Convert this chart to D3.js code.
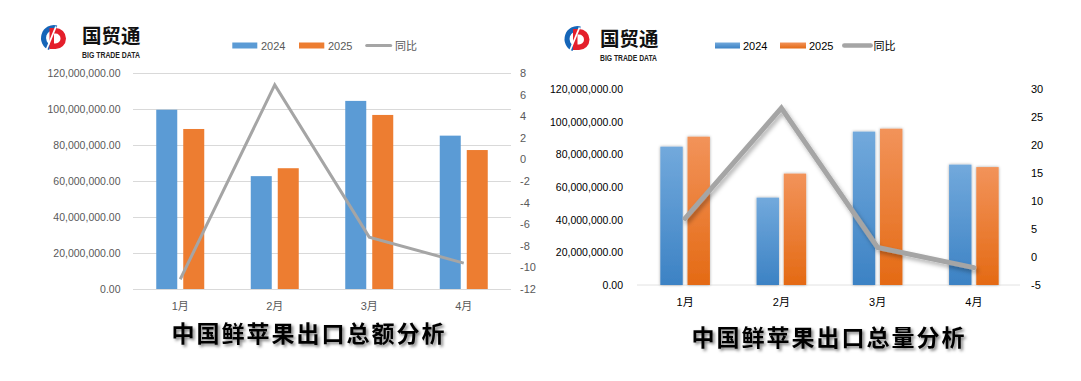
<!DOCTYPE html>
<html><head><meta charset="utf-8">
<script src="https://cdn.jsdelivr.net/npm/d3@7/dist/d3.min.js"></script>
<style>
html,body{margin:0;padding:0;background:#fff;}
svg{display:block;}
text{font-family:"Liberation Sans","Noto Sans CJK SC",sans-serif;}
</style></head><body>
<svg id="c" width="1081" height="381"></svg>
<script>
// ---------- data ----------
const categories = ["1月", "2月", "3月", "4月"];
const seriesNames = ["2024", "2025"];
const lineName = "同比";
// 中国鲜苹果出口总额
const amount2024 = [99.6e6, 62.7e6, 104.5e6, 85.2e6];
const amount2025 = [88.9e6, 67.1e6, 96.7e6, 77.2e6];
const amountYoY = [-11.1, 6.9, -7.2, -9.6];
// 中国鲜苹果出口总量
const volume2024 = [84.7e6, 53.5e6, 93.9e6, 73.7e6];
const volume2025 = [90.8e6, 68.2e6, 95.7e6, 72.2e6];
const volumeYoY = [6.9, 26.6, 1.7, -1.9];
// tick labels
const leftTicks = [0, 20e6, 40e6, 60e6, 80e6, 100e6, 120e6];
const amountRightTicks = [-12, -10, -8, -6, -4, -2, 0, 2, 4, 6, 8];
const volumeRightTicks = [-5, 0, 5, 10, 15, 20, 25, 30];
const titleAmount = "中国鲜苹果出口总额分析";
const titleVolume = "中国鲜苹果出口总量分析";

// ---------- setup ----------
const svg = d3.select("#c");
const defs = svg.append("defs");

function shadow(id, dx, dy, sd, op) {
  const f = defs.append("filter").attr("id", id)
    .attr("x", "-30%").attr("y", "-30%").attr("width", "160%").attr("height", "160%");
  f.append("feDropShadow").attr("dx", dx).attr("dy", dy).attr("stdDeviation", sd)
    .attr("flood-color", "#000").attr("flood-opacity", op);
}
shadow("titleShadow", 2, 2, 1.5, 0.5);
shadow("barShadow", 0, 0, 1.6, 0.35);
shadow("lineShadow", 2, 3, 2, 0.3);

function grad(id, top, bottom) {
  const lg = defs.append("linearGradient").attr("id", id)
    .attr("x1", 0).attr("y1", 0).attr("x2", 0).attr("y2", 1);
  lg.append("stop").attr("offset", "0%").attr("stop-color", top);
  lg.append("stop").attr("offset", "100%").attr("stop-color", bottom);
}
grad("gBlue", "#72a9dc", "#3c82c4");
grad("gOrange", "#f2935a", "#e46a14");

// ---------- logo ----------
function drawLogo(cx, cy, tx, tb, sb, sw) {
  const g = svg.append("g");
  const lg = g.append("g").attr("transform", `translate(${cx},${cy})`);
  const arc = d3.arc().innerRadius(8).outerRadius(13);
  lg.append("path").attr("d", arc({startAngle: -2.75, endAngle: 0.25})).attr("fill", "#1565b8");
  lg.append("path").attr("d", "M-4.5,-10 L1.5,-10 A10.5 10.5 0 0 1 1.5,11 L-4.5,11 Z").attr("fill", "#e41f2b");
  lg.append("path").attr("d", "M0,-4.5 L1.5,-4.5 A5 5 0 0 1 1.5,5.5 L0,5.5 Z").attr("fill", "#fff");
  lg.append("line").attr("x1", -7.5).attr("y1", 11.5).attr("x2", 2).attr("y2", -11.5)
    .attr("stroke", "#fff").attr("stroke-width", 1.8);
  g.append("text").attr("x", tx).attr("y", tb).text("国贸通")
    .attr("font-family", "Noto Sans CJK SC").attr("font-weight", 700)
    .attr("font-size", 19.5).attr("fill", "#111");
  g.append("text").attr("x", tx).attr("y", sb).text("BIG TRADE DATA")
    .attr("font-weight", 700).attr("font-size", 9.5).attr("fill", "#222")
    .attr("textLength", sw).attr("lengthAdjust", "spacingAndGlyphs");
}

// ---------- chart ----------
function drawChart(cfg) {
  const g = svg.append("g");
  const x = d3.scaleBand().domain(categories).range([cfg.x0, cfg.x1]);
  const xs = d3.scaleBand().domain(seriesNames).range([-cfg.half, cfg.half]).paddingInner(cfg.pad);
  const y = d3.scaleLinear().domain([0, 120e6]).range([cfg.yB, cfg.yT]);
  const y2 = d3.scaleLinear().domain(cfg.rDomain).range([cfg.yB, cfg.yT]);
  const fmt = d3.format(",.2f");

  // left axis (with gridlines for flat style)
  const la = g.append("g").attr("transform", `translate(${cfg.x0},0)`)
    .call(d3.axisLeft(y).tickValues(leftTicks).tickFormat(fmt)
      .tickSize(cfg.grid ? -(cfg.x1 - cfg.x0) : 0).tickPadding(cfg.lPad));
  la.select(".domain").remove();
  la.selectAll(".tick line").attr("stroke", "#d9d9d9").attr("stroke-width", 1);
  la.selectAll(".tick text").attr("font-size", 10.5).attr("fill", cfg.textColor)
    .attr("font-family", "Liberation Sans");

  if (!cfg.grid) {
    g.append("line").attr("x1", cfg.x0).attr("x2", cfg.x1 - 2)
      .attr("y1", y(0)).attr("y2", y(0)).attr("stroke", "#e2e2e2");
  }

  // right axis
  const ra = g.append("g").attr("transform", `translate(${cfg.x1},0)`)
    .call(d3.axisRight(y2).tickValues(cfg.rTicks).tickFormat(d => String(d))
      .tickSize(0).tickPadding(cfg.rPad));
  ra.select(".domain").remove();
  ra.selectAll(".tick text").attr("font-size", 11).attr("fill", cfg.textColor)
    .attr("font-family", "Liberation Sans");

  // bottom axis labels
  const ba = g.append("g").attr("transform", `translate(0,${cfg.yB})`)
    .call(d3.axisBottom(x).tickSize(0).tickPadding(cfg.xPad));
  ba.select(".domain").remove();
  ba.selectAll(".tick text").attr("font-size", 11).attr("fill", cfg.textColor);

  // bars
  const rows = categories.map((c, i) => ({c, vals: [cfg.s1[i], cfg.s2[i]]}));
  const grp = g.append("g").selectAll("g").data(rows).join("g")
    .attr("transform", d => `translate(${x(d.c) + x.bandwidth() / 2},0)`);
  grp.selectAll("rect").data(d => d.vals.map((v, k) => ({k, v}))).join("rect")
    .attr("x", d => xs(seriesNames[d.k]))
    .attr("width", xs.bandwidth())
    .attr("y", d => y(d.v))
    .attr("height", d => y(0) - y(d.v))
    .attr("fill", d => cfg.fills[d.k])
    .attr("filter", cfg.fancy ? "url(#barShadow)" : null);

  // line
  const line = d3.line().x((d, i) => x(categories[i]) + x.bandwidth() / 2).y(d => y2(d));
  g.append("path").datum(cfg.yoy).attr("d", line)
    .attr("fill", "none").attr("stroke", "#a5a5a5").attr("stroke-width", cfg.lw)
    .attr("stroke-linejoin", "miter").attr("stroke-linecap", cfg.fancy ? "round" : "butt")
    .attr("filter", cfg.fancy ? "url(#lineShadow)" : null);

  // legend
  const lgG = g.append("g").attr("font-size", 11).attr("fill", cfg.textColor);
  cfg.legend.forEach((it, k) => {
    if (k < 2) {
      lgG.append("rect").attr("x", it.x).attr("y", cfg.legY - 3).attr("width", it.w).attr("height", 6)
        .attr("fill", cfg.fills[k]);
    } else {
      lgG.append("line").attr("x1", it.x + 1).attr("x2", it.x + it.w - 1)
        .attr("y1", cfg.legY).attr("y2", cfg.legY)
        .attr("stroke", "#a5a5a5").attr("stroke-width", cfg.fancy ? 4.5 : 3)
        .attr("stroke-linecap", "round");
    }
    lgG.append("text").attr("x", it.tx).attr("y", cfg.legY + 4)
      .text(k < 2 ? seriesNames[k] : lineName).attr("fill", cfg.textColor);
  });

  // title
  g.append("text").attr("x", cfg.titleX).attr("y", cfg.titleY).attr("text-anchor", "middle")
    .text(cfg.title).attr("font-family", "Noto Sans CJK SC").attr("font-weight", 700)
    .attr("font-size", 23).attr("letter-spacing", 2).attr("fill", "#000")
    .attr("filter", "url(#titleShadow)");
}

drawLogo(54, 38, 82, 42.5, 57.5, 58);
drawLogo(577.5, 39, 600, 46, 60.5, 57);

drawChart({
  x0: 133, x1: 511, yB: 289, yT: 73, half: 24, pad: 0.222,
  rDomain: [-12, 8], rTicks: amountRightTicks, grid: true, fancy: false,
  s1: amount2024, s2: amount2025, yoy: amountYoY,
  fills: ["#5b9bd5", "#ed7d31"], textColor: "#595959", lw: 3,
  lPad: 12.5, rPad: 9, xPad: 13,
  legY: 45.5,
  legend: [{x: 232.3, w: 25, tx: 261}, {x: 299, w: 25.3, tx: 328}, {x: 365.7, w: 26, tx: 395}],
  title: titleAmount, titleX: 309, titleY: 342
});

drawChart({
  x0: 637, x1: 1022, yB: 285, yT: 89, half: 24.8, pad: 0.176,
  rDomain: [-5, 30], rTicks: volumeRightTicks, grid: false, fancy: true,
  s1: volume2024, s2: volume2025, yoy: volumeYoY,
  fills: ["url(#gBlue)", "url(#gOrange)"], textColor: "#000", lw: 5,
  lPad: 14, rPad: 9, xPad: 13.5,
  legY: 45.5,
  legend: [{x: 715, w: 25, tx: 743}, {x: 780, w: 26, tx: 809}, {x: 843.3, w: 28.4, tx: 873.5}],
  title: titleVolume, titleX: 829, titleY: 346
});
</script>
</body></html>
